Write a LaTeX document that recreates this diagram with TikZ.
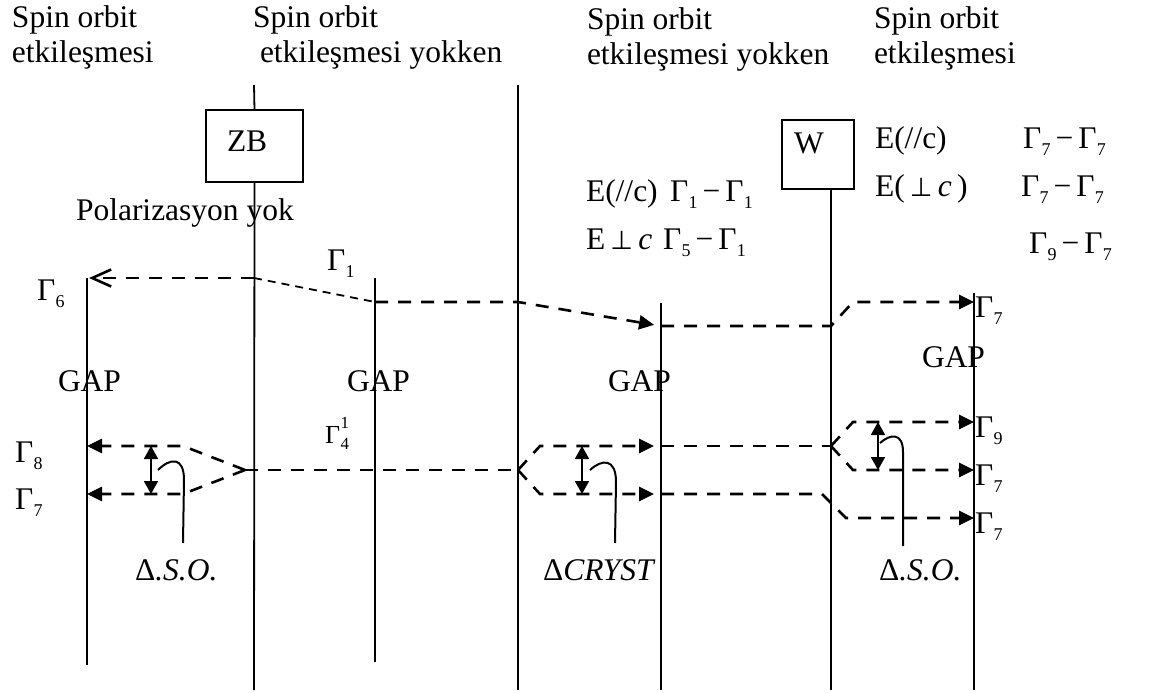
\documentclass[tikz,border=0pt]{standalone}
\usepackage{fontspec}
\setmainfont{Liberation Serif}
\newfontfamily\symf{DejaVu Sans}
\usetikzlibrary{arrows.meta}
% Gamma with a lowered index
\newcommand{\Gs}[1]{Γ\kern0.3pt\raisebox{-7pt}{\fontsize{18}{18}\selectfont #1}}
\newcommand{\perpsym}{{\symf\fontsize{26}{26}\selectfont ⊥}}
\begin{document}
\begin{tikzpicture}[x=1pt,y=-1pt,
  every node/.style={inner sep=0pt, outer sep=0pt},
  txt/.style={anchor=base west, font=\fontsize{31.5}{35}\selectfont},
  small/.style={anchor=base west, font=\fontsize{26}{30}\selectfont},
  axis/.style={line width=1.8pt},
  lvl/.style={line width=2.6pt, dash pattern=on 13pt off 10pt},
  fine/.style={line width=1.8pt, dash pattern=on 8pt off 6pt},
  tip/.style={-{Triangle[length=15pt,width=14pt]}},
  barb/.style={-{Straight Barb[length=19pt,width=17pt,line width=2.6pt]}},
  box/.style={draw, line width=1.8pt, rectangle},
  hook/.style={line width=2pt},
  span/.style={line width=1.8pt, {Triangle[length=13pt,width=14pt]}-{Triangle[length=13pt,width=14pt]}}]
\useasboundingbox (0,0) rectangle (1149,693);

% ---- column headings
\node[txt] (h1a) at (12,28) {Spin orbit};
\node[txt] (h1b) at (12,63) {etkileşmesi};
\node[txt] (h2a) at (253,28) {Spin orbit};
\node[txt] (h2b) at (260,63) {etkileşmesi yokken};
\node[txt] (h3a) at (587,30) {Spin orbit};
\node[txt] (h3b) at (587,65) {etkileşmesi yokken};
\node[txt] (h4a) at (874,29) {Spin orbit};
\node[txt] (h4b) at (874,64) {etkileşmesi};

% ---- vertical level axes
\coordinate (Atop) at (87,278);  \coordinate (Abot) at (87,665);
\coordinate (Btop) at (254,85);  \coordinate (Bbot) at (254,690);
\coordinate (Ctop) at (375,278); \coordinate (Cbot) at (375,662);
\coordinate (Dtop) at (518,85);  \coordinate (Dbot) at (518,690);
\coordinate (Etop) at (661,303); \coordinate (Ebot) at (661,690);
\coordinate (Fbot) at (831,690);
\coordinate (Gtop) at (974,293); \coordinate (Gbot) at (974,690);

\node[box, minimum width=97pt, minimum height=72pt] (zb) at (254.5,146) {};
\node[txt] (zbt) at (227,151) {ZB};
\node[box, minimum width=72pt, minimum height=69pt] (w) at (818,154.5) {};
\node[txt] (wt) at (794,153) {W};

\draw[axis] (Atop) -- (Abot);
\draw[axis] (Btop) -- (zb.north);
\draw[axis] (zb.south) -- (Bbot);
\draw[axis] (Ctop) -- (Cbot);
\draw[axis] (Dtop) -- (Dbot);
\draw[axis] (Etop) -- (Ebot);
\draw[axis] (w.south -| Fbot) -- (Fbot);
\draw[axis] (Gtop) -- (Gbot);

% ---- conduction band level
\coordinate (A6) at (89,278);
\coordinate (B6) at (254,278);
\coordinate (C1) at (375,302);
\coordinate (D1) at (518,302);
\coordinate (E1) at (661,326);
\coordinate (F1) at (831,326);
\coordinate (F1b) at (853,302);
\coordinate (G1) at (974,302);
\draw[lvl, barb] (B6) -- (A6);
\draw[fine] (B6) -- (C1);
\draw[lvl, tip, shorten >=7pt] (C1) -- (D1) -- (E1);
\draw[lvl, tip] (E1) -- (F1) -- (F1b) -- (G1);

% ---- valence band levels
\coordinate (B4) at (245,470);
\coordinate (A8k) at (183,446); \coordinate (A8) at (87,446);
\coordinate (A7k) at (183,494); \coordinate (A7) at (87,494);
\coordinate (D4) at (518,470);
\coordinate (D8k) at (540,446); \coordinate (E8) at (661,446);
\coordinate (D7k) at (540,494); \coordinate (E7) at (661,494);
\coordinate (F4) at (831,446);
\coordinate (F9k) at (853,422); \coordinate (G9) at (974,422);
\coordinate (F7k) at (853,470); \coordinate (G7a) at (974,470);
\coordinate (F7j) at (822,494); \coordinate (F7l) at (846,518);
\coordinate (G7b) at (974,518);

\draw[lvl] (B4) -- (D4);
\draw[lvl, tip] (B4) -- (A8k) -- (A8);
\draw[lvl, tip] (B4) -- (A7k) -- (A7);
\draw[lvl, tip, shorten >=7pt] (D4) -- (D8k) -- (E8);
\draw[lvl, tip, shorten >=7pt] (D4) -- (D7k) -- (E7);
\draw[lvl] (E8) -- (F4);
\draw[lvl, tip] (F4) -- (F9k) -- (G9);
\draw[lvl, tip] (F4) -- (F7k) -- (G7a);
\draw[lvl, tip] (E7) -- (F7j) -- (F7l) -- (G7b);

% ---- splitting markers
\coordinate (s1a) at (151,446); \coordinate (s1b) at (151,494);
\coordinate (s2a) at (582,446); \coordinate (s2b) at (582,494);
\coordinate (s3a) at (878,422); \coordinate (s3b) at (878,470);
\draw[span] (s1a) -- (s1b);
\draw[span] (s2a) -- (s2b);
\draw[span] (s3a) -- (s3b);

\coordinate (k1) at (158,470); \coordinate (k1e) at (183,543);
\coordinate (k2) at (590,470); \coordinate (k2e) at (615,543);
\coordinate (k3) at (880,443); \coordinate (k3e) at (903,546);
\draw[hook] (k1) .. controls (170,458) and (184,456) .. (184,480) -- (k1e);
\draw[hook] (k2) .. controls (602,459) and (616,458) .. (616,482) -- (k2e);
\draw[hook] (k3) .. controls (890,434) and (903,432) .. (903,452) -- (k3e);

\node[txt] (d1) at (135,580) {Δ\textit{.S.O.}};
\node[txt] (d2) at (543,580) {Δ\textit{CRYST}};
\node[txt] (d3) at (879,580) {Δ\textit{.S.O.}};

% ---- band gap labels
\node[txt] (gap1) at (58,391) {GAP};
\node[txt] (gap2) at (347,391) {GAP};
\node[txt] (gap3) at (608,391) {GAP};
\node[txt] (gap4) at (922,367) {GAP};

% ---- symmetry labels
\node[txt] (pol) at (76,220) {Polarizasyon yok};
\node[txt] (g1) at (327,270) {\Gs{1}};
\node[txt] (g6) at (37,300) {\Gs{6}};
\node[txt] (g8) at (15,462) {\Gs{8}};
\node[txt] (g7) at (15,509) {\Gs{7}};
\node[small] (g41) at (325,443) {Γ\kern0.5pt\makebox[0pt][l]{\raisebox{15pt}{\fontsize{17}{17}\selectfont 1}}\raisebox{-6pt}{\fontsize{17}{17}\selectfont 4}};
\node[txt] (r7a) at (975,317) {\Gs{7}};
\node[txt] (r9) at (975,437) {\Gs{9}};
\node[txt] (r7b) at (975,485) {\Gs{7}};
\node[txt] (r7c) at (975,533) {\Gs{7}};

% ---- selection rules
\node[txt] (m1a) at (586,201) {E(//c)};
\node[txt] (m1b) at (670,201) {\Gs{1}\hspace{5pt}−\hspace{5pt}\Gs{1}};
\node[txt] (m2a) at (586,249) {E\,\perpsym\,\textit{c}};
\node[txt] (m2b) at (663,249) {\Gs{5}\hspace{5pt}−\hspace{5pt}\Gs{1}};
\node[txt] (w1a) at (875,148) {E(//c)};
\node[txt] (w1b) at (1023,148) {\Gs{7}\hspace{5pt}−\hspace{5pt}\Gs{7}};
\node[txt] (w2a) at (875,196) {E(\,\perpsym\,\textit{c}\,)};
\node[txt] (w2b) at (1021,196) {\Gs{7}\hspace{5pt}−\hspace{5pt}\Gs{7}};
\node[txt] (w3b) at (1029,253) {\Gs{9}\hspace{5pt}−\hspace{5pt}\Gs{7}};
\end{tikzpicture}
\end{document}
